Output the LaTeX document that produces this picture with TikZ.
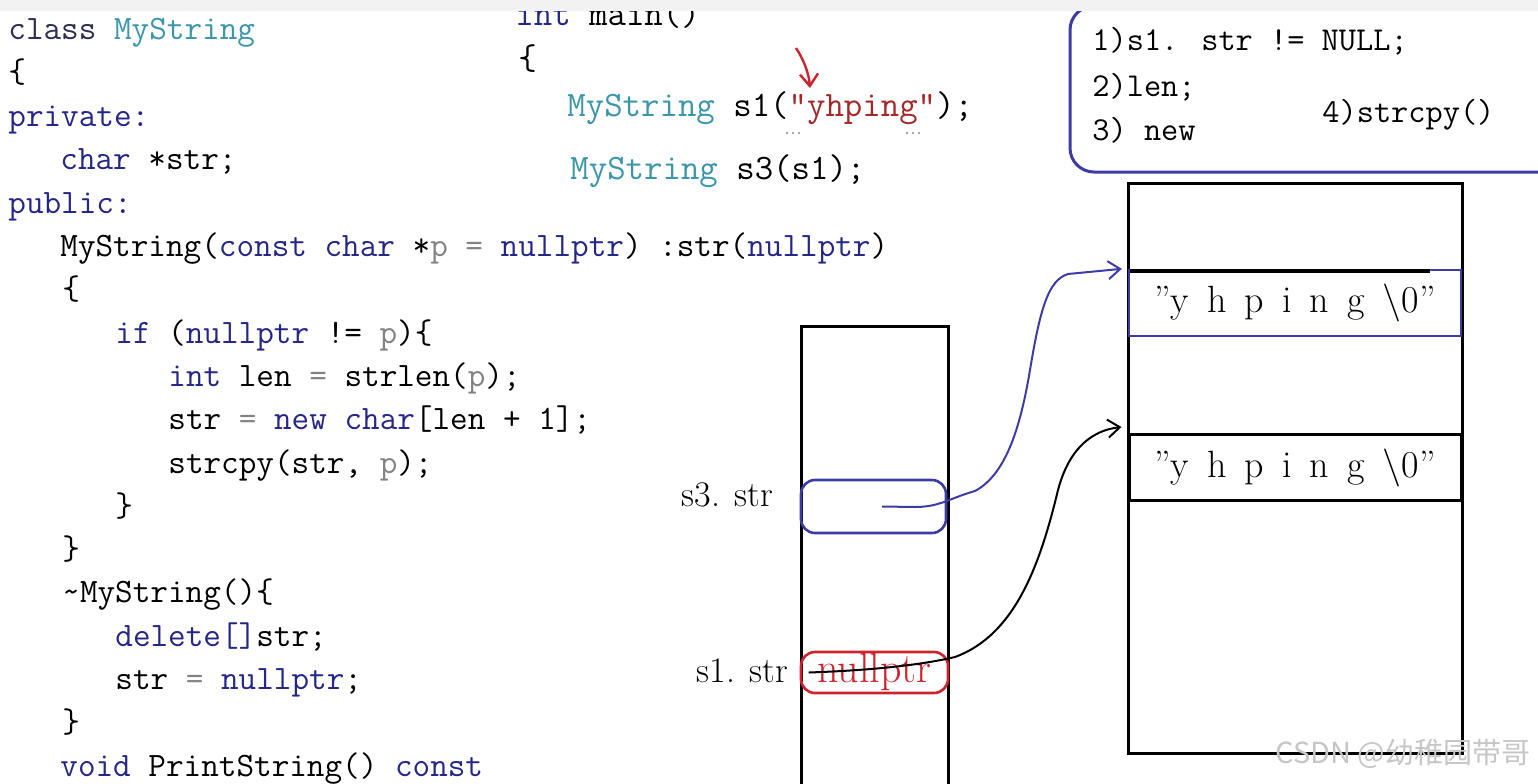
\documentclass[tikz,border=0pt]{standalone}
\usepackage{fontspec}
\newfontfamily\cjkfont{Noto Sans CJK SC}
\usetikzlibrary{positioning,arrows.meta}

\definecolor{kwblue}{RGB}{38,38,135}
\definecolor{clsnavy}{RGB}{45,45,85}
\definecolor{tyteal}{RGB}{60,150,170}
\definecolor{strred}{RGB}{165,40,40}
\definecolor{argray}{RGB}{130,130,130}
\definecolor{boxblue}{RGB}{60,60,165}
\definecolor{slotred}{RGB}{205,35,45}
\definecolor{barbgray}{RGB}{242,242,242}
\newcommand{\kw}[1]{\textcolor{kwblue}{#1}}
\newcommand{\ty}[1]{\textcolor{tyteal}{#1}}
\newcommand{\ar}[1]{\textcolor{argray}{#1}}
\newcommand{\wide}[1]{{\spaceskip=9pt\relax #1}}

\begin{document}
\begin{tikzpicture}[x=0.5pt,y=-0.5pt,>={Straight Barb[length=6pt,width=9pt]},
  code/.style={anchor=base west,inner sep=0,font=\ttfamily\fontsize{17.1}{19}\selectfont},
  mcode/.style={code,font=\ttfamily\fontsize{17.9}{20}\selectfont},
  note/.style={code,font=\ttfamily\fontsize{16.7}{19}\selectfont},
  memlabel/.style={inner sep=0,font=\fontsize{18}{20}\selectfont},
  heaptext/.style={draw,line width=1.5pt,minimum width=166pt,minimum height=33pt,
    inner sep=0,font=\fontsize{19}{20}\selectfont},
  slot/.style={draw,line width=1.3pt,rounded corners=7pt,inner sep=0}]

\useasboundingbox (0,0) rectangle (1538,783);
\clip (0,0) rectangle (1538,783);

% class definition
\node[code] (l1)  at (8,39)    {\textcolor{clsnavy}{class} \ty{MyString}};
\node[code] (l2)  at (8,82)    {\{};
\node[code] (l3)  at (8,126)   {\kw{private:}};
\node[code] (l4)  at (60,169)  {\kw{char} *str;};
\node[code] (l5)  at (8,213)   {\kw{public:}};
\node[code] (l6)  at (60,256)  {MyString(\kw{const} \kw{char} *\ar{p} \ar{=} \kw{nullptr}) :str(\kw{nullptr})};
\node[code] (l7)  at (62,299)  {\{};
\node[code] (l8)  at (115,343) {\kw{if} (\kw{nullptr} != \ar{p})\{};
\node[code] (l9)  at (168,386) {\kw{int} len \ar{=} strlen(\ar{p});};
\node[code] (l10) at (168,429) {str \ar{=} \kw{new} \kw{char}[len + 1];};
\node[code] (l11) at (168,473) {strcpy(str, \ar{p});};
\node[code] (l12) at (115,516) {\}};
\node[code] (l13) at (62,559)  {\}};
\node[code] (l14) at (62,602)  {\textasciitilde MyString()\{};
\node[code] (l15) at (115,646) {\kw{delete[]}str;};
\node[code] (l16) at (115,689) {str \ar{=} \kw{nullptr};};
\node[code] (l17) at (62,732)  {\}};
\node[code] (l18) at (60,776)  {\kw{void} PrintString() \kw{const}};

% main
\node[mcode] (m1) at (515,25)  {\kw{int} main()};
\node[mcode] (m2) at (518,69)  {\{};
\node[mcode] (m3) at (567,116) {\ty{MyString} s1(\textcolor{strred}{"yhping"});};
\node[mcode] (m4) at (570,179) {\ty{MyString} s3(s1);};
\coordinate (redtail) at (796,48);
\coordinate (redtip) at (810,88);
\draw[slotred,line width=1.2pt,->] (redtail) .. controls (804,60) and (809,74) .. (redtip);
\draw[argray!70,dotted,line width=1pt] (786,133) -- (801,133);
\draw[argray!70,dotted,line width=1pt] (906,133) -- (924,133);

% steps of the copy constructor
\draw[boxblue,line width=1.5pt,rounded corners=12pt]
  (1600,172) -- (1070,172) -- (1070,6) -- (1600,6);
\node[note] (n1) at (1092,50)  {1)s1. str != NULL;};
\node[note] (n2) at (1092,96)  {2)len;};
\node[note] (n3) at (1092,140) {3) new};
\node[note] (n4) at (1322,122) {4)strcpy()};

% stack
\node[draw,line width=1.5pt,minimum width=73.5pt,minimum height=232pt,inner sep=0] (stack) at (874.5,558) {};
\node[slot,draw=boxblue,minimum width=72.5pt,minimum height=26.5pt] (s3slot) at (873.5,506.5) {};
\node[slot,draw=slotred,minimum width=73.5pt,minimum height=20.5pt,text=slotred,
  font=\fontsize{21}{22}\selectfont] (s1slot) at (874.5,672.5) {nullptr};
\node[memlabel,anchor=east] (s3lab) [left=13pt of s3slot,yshift=6pt] {s3. str};
\node[memlabel,anchor=east] (s1lab) [left=5.5pt of s1slot,yshift=1pt] {s1. str};

% heap
\node[draw,line width=1.5pt,minimum width=167pt,minimum height=285pt,inner sep=0] (heap) at (1295,468) {};
\node[heaptext,draw=boxblue,line width=1.2pt] (cell1) at (1295,303) {\wide{”y h p i n g \textbackslash0”}};
\draw[line width=2pt] ([xshift=1pt,yshift=-1pt]cell1.north west) -- ([xshift=-16pt,yshift=-1pt]cell1.north east);
\node[heaptext] (cell2) at (1295,467.5) {\wide{”y h p i n g \textbackslash0”}};

% pointers
\coordinate (s3p) at ([xshift=4.25pt]s3slot.center);
\coordinate (s1p) at ([xshift=4.5pt]s1slot.west);
\draw[boxblue,line width=1pt,->] (s3p) -- (915,507)
  .. controls (940,507) and (950,498) .. (975,491)
  .. controls (1005,475) and (1020,430) .. (1030,370)
  .. controls (1040,310) and (1048,280) .. (1068,274)
  -- ([xshift=-3pt]cell1.north west);
\draw[line width=1pt,->] (s1p) .. controls (880,670) and (925,664) .. (955,657)
  .. controls (1015,635) and (1040,565) .. (1058,490)
  .. controls (1070,445) and (1095,430) .. ([xshift=-3pt,yshift=3pt]cell2.north west);

% top strip
\fill[barbgray] (0,0) rectangle (1538,11);

\node[anchor=base west,inner sep=0,text=gray!45,font=\cjkfont\fontsize{14.5}{15}\selectfont] (mark) at (1275,763) {CSDN @幼稚园带哥};
\end{tikzpicture}
\end{document}
